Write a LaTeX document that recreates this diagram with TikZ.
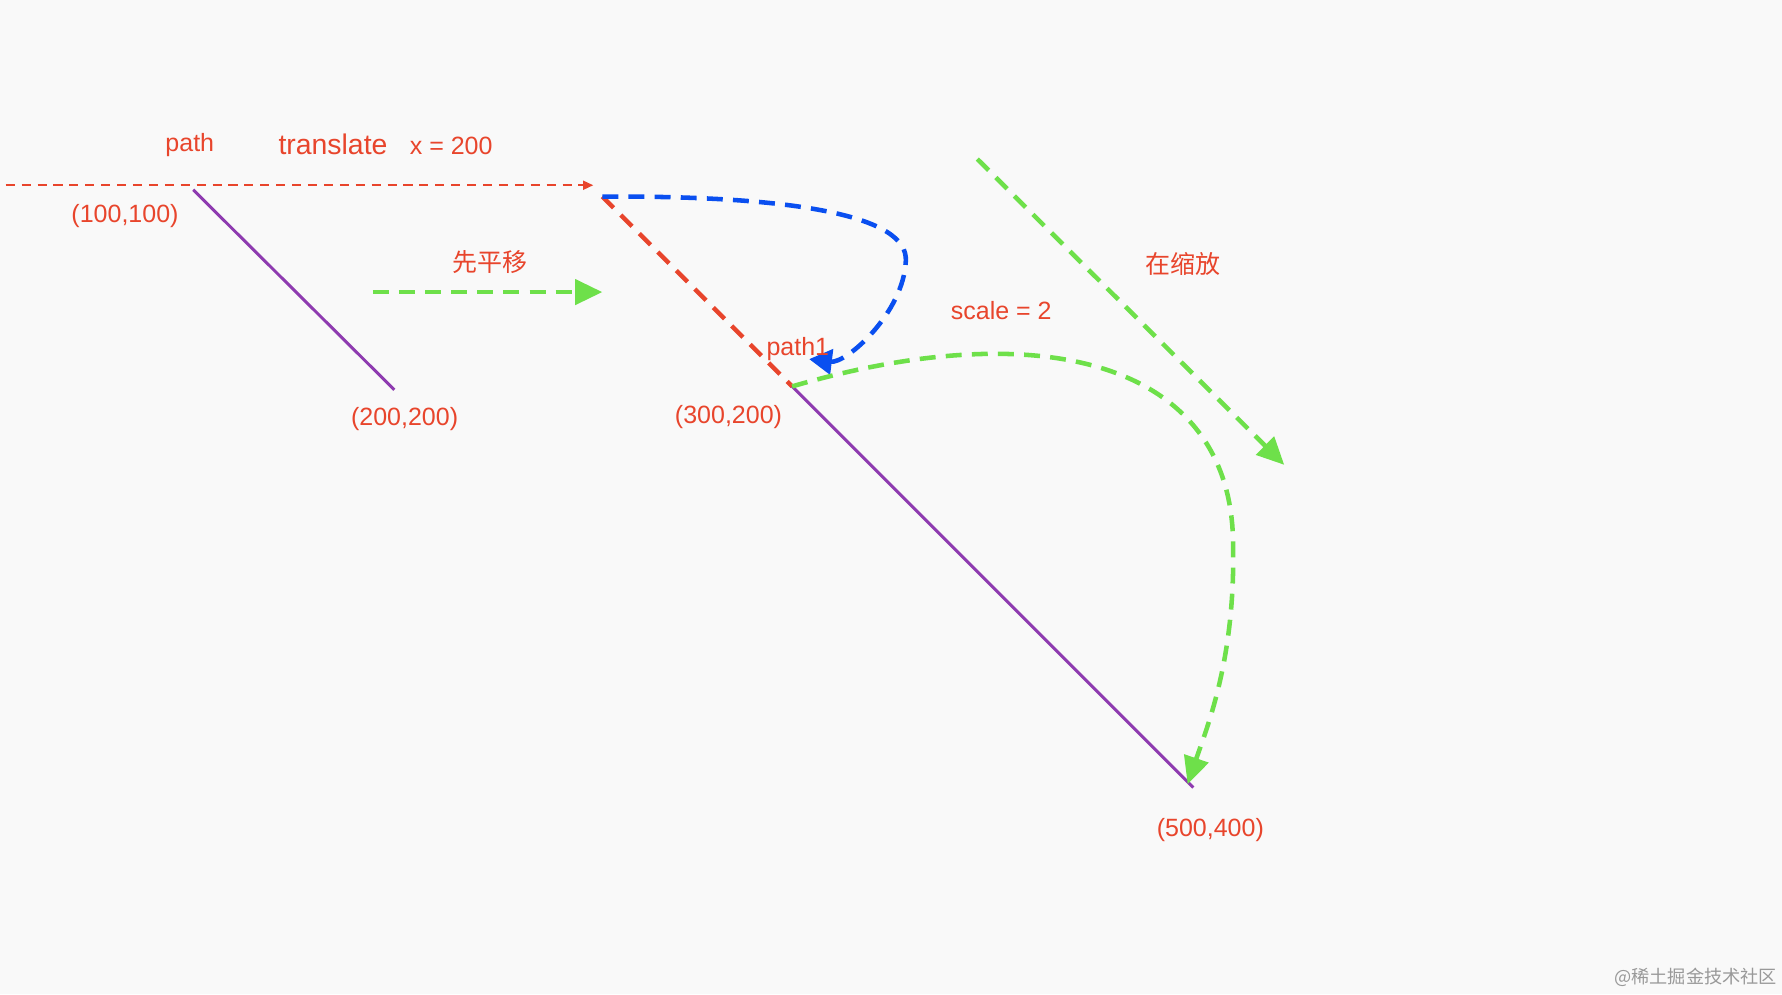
\documentclass[tikz,border=0pt]{standalone}
\usepackage{fontspec}
\setmainfont{Liberation Sans}
\newfontfamily\cjk{Noto Sans CJK SC}
\usetikzlibrary{arrows.meta}
\definecolor{lred}{HTML}{E8452C}
\definecolor{lgreen}{HTML}{6EE04A}
\definecolor{lblue}{HTML}{0A4FF0}
\definecolor{lpurple}{HTML}{8E3BB0}
\definecolor{bg}{HTML}{F9F9F9}
\begin{document}
\begin{tikzpicture}[x=1pt,y=-1pt,
  lbl/.style={text=lred,font=\fontsize{22}{24}\selectfont,inner sep=0},
  clbl/.style={text=lred,font=\cjk\fontsize{22}{24}\selectfont,inner sep=0},
  gdash/.style={lgreen,line width=4pt,dash pattern=on 14pt off 9pt,-{Triangle[length=24pt,width=22pt]}},
  seg/.style={lpurple,line width=2.6pt}]
\fill[bg] (0,0) rectangle (1568,875);
\useasboundingbox (0,0) rectangle (1568,875);
\coordinate (r0) at (5,163); \coordinate (r1) at (522,163);
\draw[lred,line width=1.5pt,dash pattern=on 8pt off 6pt,-{Triangle[length=9pt,width=8pt]}] (r0)--(r1);
\coordinate (a1) at (170,167); \coordinate (a2) at (347,343);
\draw[seg] (a1)--(a2);
\node[lbl] (tpath) at (167,128) {path};
\node[lbl,font=\fontsize{25}{27}\selectfont] (ttr) at (293,127) {translate};
\node[lbl] (tx) at (397,128) {x = 200};
\node[lbl] (t1) at (110,190) {(100,100)};
\node[lbl] (t2) at (356,369) {(200,200)};
\coordinate (g0) at (328,257); \coordinate (g1) at (530,257);
\draw[gdash] (g0)--(g1);
\node[clbl] (tmove) at (431,231) {先平移};
\coordinate (b0) at (530,173); \coordinate (b1) at (697,340);
\draw[lred,line width=4pt,dash pattern=on 14pt off 9pt] (b0)--(b1);
\coordinate (bm) at (797,230); \coordinate (be) at (712,316);
\draw[lblue,line width=4pt,dash pattern=on 14pt off 9pt,-{Triangle[length=20pt,width=22pt]}]
 (b0) .. controls (700,172) and (800,190) .. (bm) .. controls (795,275) and (745,320) .. (be);
\node[lbl] (tp1) at (702,307) {path1};
\coordinate (c2) at (1050,693);
\draw[seg] (b1)--(c2);
\node[lbl] (t3) at (641,367) {(300,200)};
\node[lbl] (t4) at (1065,730) {(500,400)};
\coordinate (gm) at (1085,480); \coordinate (ge) at (1045,690);
\draw[gdash] (b1) .. controls (920,275) and (1085,320) .. (gm) .. controls (1087,580) and (1062,640) .. (ge);
\coordinate (h0) at (860,140); \coordinate (h1) at (1130,409);
\draw[gdash] (h0)--(h1);
\node[clbl] (tsc) at (1041,232) {在缩放};
\node[lbl] (tscale) at (881,273) {scale = 2};
\node[text=gray!80,font=\cjk\fontsize{16}{18}\selectfont,inner sep=0] (wm) at (1492,860) {@稀土掘金技术社区};
\end{tikzpicture}
\end{document}
